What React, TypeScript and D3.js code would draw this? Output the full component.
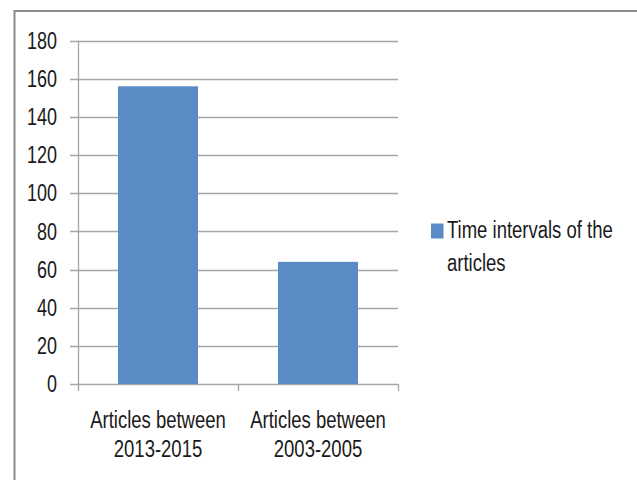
import React, { useRef, useEffect } from "react";
import * as d3 from "d3";

const categories = ["Articles between 2013-2015", "Articles between 2003-2005"];
const categoryLines = [
  ["Articles between", "2013-2015"],
  ["Articles between", "2003-2005"],
];
const values = [156, 64];
const yTicks = [0, 20, 40, 60, 80, 100, 120, 140, 160, 180];
const legendLines = ["Time intervals of the", "articles"];

const W = 637;
const H = 480;
const BAR = "#5b8bc5";
const GRID = "#a6a6a6";
const FONT = "'Liberation Sans', Arial, sans-serif";

const App: React.FC = () => {
  const svgRef = useRef<SVGSVGElement | null>(null);

  useEffect(() => {
    if (!svgRef.current) return;
    const svg = d3.select(svgRef.current);
    svg.selectAll("*").remove();

    const x = d3.scaleBand<string>()
      .domain(categories)
      .range([78, 398])
      .paddingInner(0.5)
      .paddingOuter(0.25);
    const y = d3.scaleLinear().domain([0, 180]).range([384, 40.5]);

    // outer frame
    svg.append("rect")
      .attr("x", 14.5).attr("y", 11)
      .attr("width", W).attr("height", H)
      .attr("fill", "white")
      .attr("stroke", "#8c8c8c")
      .attr("stroke-width", 2);

    // gridlines + y ticks
    const grid = svg.append("g").attr("stroke", GRID).attr("stroke-width", 1.3);
    grid.selectAll("line")
      .data(yTicks)
      .enter().append("line")
      .attr("x1", 70).attr("x2", 398)
      .attr("y1", d => Math.round(y(d)) + 0.5)
      .attr("y2", d => Math.round(y(d)) + 0.5);

    // y axis line
    svg.append("line")
      .attr("x1", 78.5).attr("x2", 78.5)
      .attr("y1", y(180)).attr("y2", y(0))
      .attr("stroke", GRID).attr("stroke-width", 1.3);

    // x category ticks
    const xEdges = [78, 238, 398];
    svg.append("g").attr("stroke", GRID).attr("stroke-width", 1.3)
      .selectAll("line")
      .data(xEdges)
      .enter().append("line")
      .attr("x1", d => d + 0.5).attr("x2", d => d + 0.5)
      .attr("y1", y(0)).attr("y2", y(0) + 7);

    // bars
    svg.append("g")
      .selectAll("rect")
      .data(values)
      .enter().append("rect")
      .attr("x", (d, i) => x(categories[i])!)
      .attr("width", x.bandwidth())
      .attr("y", d => y(d))
      .attr("height", d => y(0) - y(d))
      .attr("fill", BAR);

    // y tick labels
    svg.append("g")
      .selectAll("text")
      .data(yTicks)
      .enter().append("text")
      .attr("transform", d => `translate(57,${y(d) + 8.3}) scale(1,1.3)`)
      .attr("text-anchor", "end")
      .attr("font-family", FONT)
      .attr("font-size", 18)
      .attr("fill", "#1a1a1a")
      .text(d => d);

    // category labels
    const cat = svg.append("g")
      .selectAll("g")
      .data(categoryLines)
      .enter().append("g");
    cat.each(function (lines, i) {
      const cx = x(categories[i])! + x.bandwidth() / 2;
      lines.forEach((t, j) => {
        d3.select(this).append("text")
          .attr("transform", `translate(${cx},${428 + j * 28.5}) scale(1,1.3)`)
          .attr("text-anchor", "middle")
          .attr("font-family", FONT)
          .attr("font-size", 18.5)
          .attr("fill", "#1a1a1a")
          .text(t);
      });
    });

    // legend
    svg.append("rect")
      .attr("x", 431).attr("y", 223.5)
      .attr("width", 12.5).attr("height", 15)
      .attr("fill", BAR);
    legendLines.forEach((t, j) => {
      svg.append("text")
        .attr("transform", `translate(447,${238 + j * 33}) scale(1,1.3)`)
        .attr("font-family", FONT)
        .attr("font-size", 18.5)
        .attr("fill", "#1a1a1a")
        .text(t);
    });
  }, []);

  return (
    <svg
      ref={svgRef}
      width={W}
      height={H}
      style={{ position: "absolute", left: 0, top: 0, background: "white" }}
    ></svg>
  );
};

export default App;
